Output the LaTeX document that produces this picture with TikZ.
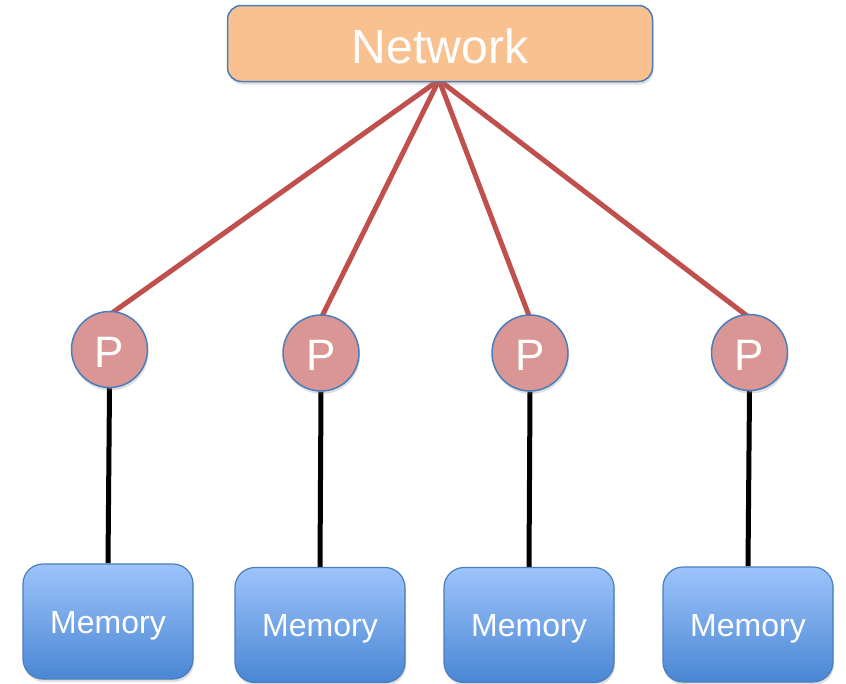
\documentclass[tikz,border=0pt]{standalone}
\usepackage{fontspec}
\setmainfont{Liberation Sans}
\usetikzlibrary{shadows,backgrounds}
\definecolor{netfill}{HTML}{F9C18F}
\definecolor{edgeblue}{HTML}{4A7EBB}
\definecolor{pfill}{HTML}{D99694}
\definecolor{redline}{HTML}{C0504D}
\definecolor{memtop}{HTML}{9DC4FB}
\definecolor{membot}{HTML}{4A86D4}
\tikzset{
  netbox/.style={draw=edgeblue, line width=1.5pt, fill=netfill, rounded corners=14pt,
    minimum width=425pt, minimum height=76pt, inner sep=0pt, text=white,
    text height=39pt, text depth=0pt,
    font=\fontsize{48}{50}\selectfont,
    drop shadow={opacity=0.25, shadow xshift=1pt, shadow yshift=-3pt}},
  proc/.style={circle, draw=edgeblue, line width=1.5pt, fill=pfill, minimum size=76pt,
    inner sep=0pt, text=white, text height=35pt, text depth=0pt,
    font=\fontsize{44}{46}\selectfont,
    drop shadow={opacity=0.25, shadow xshift=1pt, shadow yshift=-3pt}},
  mem/.style={draw=edgeblue, line width=1.2pt, rounded corners=20pt,
    top color=memtop, bottom color=membot, minimum width=170pt, minimum height=115pt,
    inner sep=0pt, text=white, text height=23pt, text depth=0pt,
    font=\fontsize{32}{34}\selectfont,
    drop shadow={opacity=0.25, shadow xshift=1pt, shadow yshift=-3pt}},
  redlink/.style={draw=redline, line width=5pt},
  blacklink/.style={draw=black, line width=5pt},
}
\begin{document}
\begin{tikzpicture}[x=1pt, y=-1pt]
\useasboundingbox (0,0) rectangle (846,683);
\node[netbox] (net) at (440,43.5) {Network};
\coordinate (hub) at (439,80);
\node[proc] (p1) at (109.5,349.5) {P};
\node[proc] (p2) at (321,353) {P};
\node[proc] (p3) at (530,353) {P};
\node[proc] (p4) at (749.5,352.5) {P};
\node[mem] (m1) at (108,621.5) {Memory};
\node[mem] (m2) at (320,625) {Memory};
\node[mem] (m3) at (529,625) {Memory};
\node[mem] (m4) at (748,624.5) {Memory};
\begin{scope}[on background layer]
\foreach \i in {1,2,3,4} {
  \draw[redlink] (hub) -- ([yshift=-4pt]p\i.north);
  \draw[blacklink] (p\i.south) -- (m\i.north);
}
\end{scope}
\end{tikzpicture}
\end{document}
